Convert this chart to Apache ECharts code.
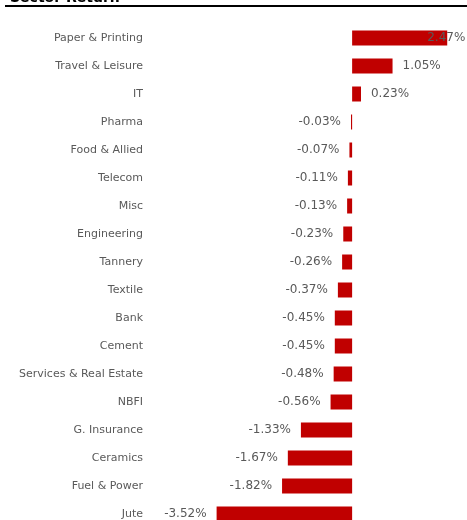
<!DOCTYPE html>
<html><head><meta charset="utf-8">
<script src="https://cdn.jsdelivr.net/npm/echarts@6/dist/echarts.min.js"></script>
<style>html,body{margin:0;padding:0;background:#fff;overflow:hidden}#c{width:467px;height:530px}</style>
</head><body><div id="c"></div>
<script>
const categories = ["Paper & Printing","Travel & Leisure","IT","Pharma","Food & Allied","Telecom","Misc","Engineering","Tannery","Textile","Bank","Cement","Services & Real Estate","NBFI","G. Insurance","Ceramics","Fuel & Power","Jute"];
const returns = [2.47,1.05,0.23,-0.03,-0.07,-0.11,-0.13,-0.23,-0.26,-0.37,-0.45,-0.45,-0.48,-0.56,-1.33,-1.67,-1.82,-3.52];

const chart = echarts.init(document.getElementById('c'));
const font = 'DejaVu Sans';
const data = returns.map((v, i) => {
  const item = { value: v, label: { position: v >= 0 ? 'right' : 'left' } };
  if (i === 0) item.label.offset = [-30, 0];
  return item;
});
chart.setOption({
  animation: false,
  title: { text: 'Sector Return', left: 5, top: -14, textStyle: { fontFamily: font, fontSize: 14, fontWeight: 'bold', color: '#000' } },
  graphic: [{ type: 'line', shape: { x1: 5, y1: 6, x2: 467, y2: 6 }, style: { stroke: '#000', lineWidth: 2 } }],
  grid: { left: 150, top: 24, height: 504, right: 5.15 },
  xAxis: { type: 'value', min: -5.25, max: 2.85, show: false },
  yAxis: {
    type: 'category', data: categories, inverse: true,
    axisLine: { show: false }, axisTick: { show: false },
    axisLabel: { fontFamily: font, fontSize: 11, color: '#595959', margin: 7 }
  },
  series: [{
    type: 'bar', data: data, barWidth: 15,
    itemStyle: { color: '#C00000' },
    label: { show: true, distance: 10, fontFamily: font, fontSize: 12, color: '#595959', formatter: p => p.value.toFixed(2) + '%' }
  }]
});
</script></body></html>
